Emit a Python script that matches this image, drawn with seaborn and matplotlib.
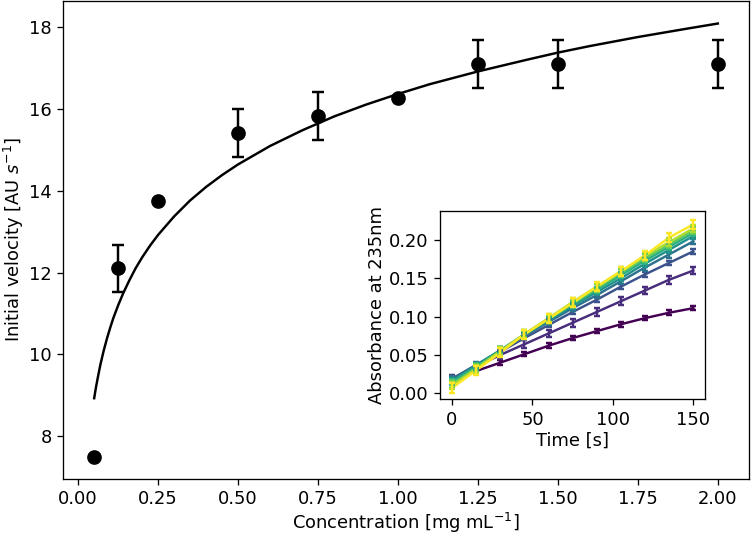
import numpy as np
import pandas as pd
import seaborn as sns
import matplotlib
matplotlib.use("Agg")
import matplotlib.pyplot as plt

plt.rcParams["font.size"] = 11

# main plot: initial velocity vs concentration
conc = [0.05, 0.125, 0.25, 0.5, 0.75, 1.0, 1.25, 1.5, 2.0]
velocity = [7.50, 12.10, 13.75, 15.41, 15.83, 16.27, 17.09, 17.09, 17.09]
velocity_err = [0.0, 0.57, 0.0, 0.59, 0.59, 0.0, 0.59, 0.59, 0.59]

# fitted curve
fit_x = [0.05, 0.055, 0.06, 0.065, 0.07, 0.08, 0.09, 0.1, 0.11, 0.125, 0.14,
         0.16, 0.18, 0.2, 0.225, 0.25, 0.3, 0.35, 0.4, 0.45, 0.5, 0.6, 0.7,
         0.8, 0.9, 1.0, 1.1, 1.25, 1.4, 1.5, 1.6, 1.75, 1.9, 2.0]
fit_y = [8.93, 9.17, 9.38, 9.58, 9.77, 10.10, 10.39, 10.65, 10.89, 11.20, 11.48,
         11.81, 12.11, 12.37, 12.66, 12.92, 13.37, 13.76, 14.09, 14.38, 14.64,
         15.09, 15.47, 15.81, 16.10, 16.36, 16.60, 16.91, 17.19, 17.37, 17.53,
         17.75, 17.95, 18.08]

# inset: absorbance time courses
time = [0, 15, 30, 45, 60, 75, 90, 105, 120, 135, 150]
abs_005 = [0.020, 0.029, 0.040, 0.051, 0.062, 0.072, 0.081, 0.090, 0.098, 0.105, 0.111]
abs_0125 = [0.019, 0.035, 0.050, 0.064, 0.078, 0.092, 0.106, 0.120, 0.134, 0.148, 0.160]
abs_025 = [0.019, 0.037, 0.054, 0.072, 0.089, 0.106, 0.122, 0.139, 0.155, 0.170, 0.185]
abs_05 = [0.018, 0.037, 0.056, 0.075, 0.093, 0.111, 0.128, 0.146, 0.164, 0.181, 0.198]
abs_075 = [0.016, 0.036, 0.056, 0.076, 0.095, 0.114, 0.132, 0.150, 0.169, 0.187, 0.205]
abs_1 = [0.015, 0.035, 0.056, 0.077, 0.097, 0.116, 0.135, 0.154, 0.173, 0.191, 0.209]
abs_125 = [0.012, 0.033, 0.055, 0.077, 0.097, 0.117, 0.137, 0.157, 0.176, 0.194, 0.212]
abs_15 = [0.010, 0.032, 0.055, 0.077, 0.098, 0.119, 0.139, 0.159, 0.179, 0.197, 0.215]
abs_2 = [0.007, 0.030, 0.053, 0.077, 0.097, 0.118, 0.139, 0.159, 0.180, 0.203, 0.220]
abs_err = [0.003, 0.005, 0.003, 0.004, 0.004, 0.004, 0.005, 0.005, 0.006]

series = [abs_005, abs_0125, abs_025, abs_05, abs_075, abs_1, abs_125, abs_15, abs_2]
rows = []
for c, s, e in zip(conc, series, abs_err):
    for t, a in zip(time, s):
        rows.append({"conc": str(c), "time": t, "absorbance": a, "err": e})
df = pd.DataFrame(rows)

colors = [plt.cm.viridis(v) for v in np.linspace(0, 1, len(conc))]

dpi = 117.3
fig = plt.figure(figsize=(751 / dpi, 536 / dpi), dpi=dpi)
ax = fig.add_axes([63 / 751, 1 - 478.5 / 536, 686 / 751, 477.5 / 536])

sns.lineplot(x=fit_x, y=fit_y, ax=ax, color="black", linewidth=1.5)
ax.errorbar(conc, velocity, yerr=velocity_err, fmt="o", color="black",
            markersize=8, capsize=3.5, elinewidth=1.5, capthick=1.5)
ax.set_xlabel(r"Concentration [mg mL$^{-1}$]", labelpad=2)
ax.set_ylabel(r"Initial velocity [AU $s^{-1}$]", labelpad=2)
ax.set_xticks([0.0, 0.25, 0.5, 0.75, 1.0, 1.25, 1.5, 1.75, 2.0])
ax.set_xlim(-0.0475, 2.0975)
ax.set_ylim(6.97, 18.63)

# inset
ins = fig.add_axes([440 / 751, 1 - 399.3 / 536, 265.3 / 751, 188.6 / 536])
sns.lineplot(data=df, x="time", y="absorbance", hue="conc", palette=colors,
             ax=ins, legend=False, linewidth=1.5)
for c, s, e, col in zip(conc, series, abs_err, colors):
    ins.errorbar(time, s, yerr=e, fmt="none", ecolor=col, capsize=2,
                 elinewidth=1.5, capthick=1.5)
ins.set_xlabel("Time [s]", labelpad=2)
ins.set_ylabel("Absorbance at 235nm", labelpad=2)
ins.set_xticks([0, 50, 100, 150])
ins.set_yticks([0.0, 0.05, 0.10, 0.15, 0.20])
ins.set_xlim(-7.5, 157.5)
ins.set_ylim(-0.0078, 0.238)

fig.savefig("out.png", dpi=dpi)
